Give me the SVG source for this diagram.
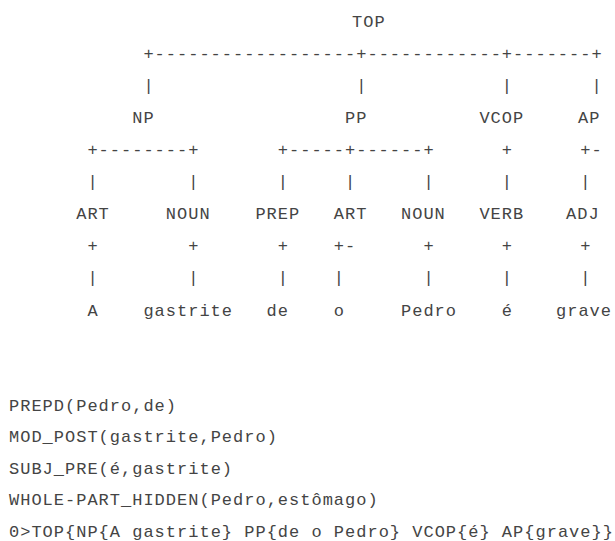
<svg xmlns="http://www.w3.org/2000/svg" width="615" height="541" viewBox="0 0 615 541">
<style>
text{font-family:"Liberation Mono","DejaVu Sans Mono",monospace;font-size:17px;letter-spacing:1px;fill:#444;white-space:pre}
</style>
<rect width="615" height="541" fill="#fff"/>
<g id="connectors">
<text x="143.4" y="58.7">+------------------+------------+-------+</text>
<text x="143.4" y="90.8">|</text><text x="356.2" y="90.8">|</text><text x="501.8" y="90.8">|</text><text x="591.4" y="90.8">|</text>
<text x="87.4" y="155">+--------+</text><text x="277.8" y="155">+-----+------+</text><text x="501.8" y="155">+</text><text x="580.2" y="155">+-</text>
<text x="87.4" y="187.1">|</text><text x="188.2" y="187.1">|</text><text x="277.8" y="187.1">|</text><text x="345" y="187.1">|</text><text x="423.4" y="187.1">|</text><text x="501.8" y="187.1">|</text><text x="580.2" y="187.1">|</text>
<text x="87.4" y="251.3">+</text><text x="188.2" y="251.3">+</text><text x="277.8" y="251.3">+</text><text x="333.8" y="251.3">+-</text><text x="423.4" y="251.3">+</text><text x="501.8" y="251.3">+</text><text x="580.2" y="251.3">+</text>
<text x="87.4" y="283.4">|</text><text x="188.2" y="283.4">|</text><text x="277.8" y="283.4">|</text><text x="333.8" y="283.4">|</text><text x="423.4" y="283.4">|</text><text x="501.8" y="283.4">|</text><text x="580.2" y="283.4">|</text>
</g>
<g id="n-top"><text x="352" y="26.6">TOP</text></g>
<g id="n-np"><text x="132.2" y="122.9">NP</text></g>
<g id="n-pp"><text x="345" y="122.9">PP</text></g>
<g id="n-vcop"><text x="479.4" y="122.9">VCOP</text></g>
<g id="n-ap"><text x="578" y="122.9">AP</text></g>
<g id="n-art1"><text x="76.2" y="219.2">ART</text></g>
<g id="n-noun1"><text x="165.8" y="219.2">NOUN</text></g>
<g id="n-prep"><text x="255.4" y="219.2">PREP</text></g>
<g id="n-art2"><text x="333.8" y="219.2">ART</text></g>
<g id="n-noun2"><text x="401" y="219.2">NOUN</text></g>
<g id="n-verb"><text x="479.4" y="219.2">VERB</text></g>
<g id="n-adj"><text x="566" y="219.2">ADJ</text></g>
<g id="w-a"><text x="87.4" y="315.5">A</text></g>
<g id="w-gastrite"><text x="143.4" y="315.5">gastrite</text></g>
<g id="w-de"><text x="266.6" y="315.5">de</text></g>
<g id="w-o"><text x="333.8" y="315.5">o</text></g>
<g id="w-pedro"><text x="401" y="315.5">Pedro</text></g>
<g id="w-e"><text x="501.8" y="315.5">é</text></g>
<g id="w-grave"><text x="556" y="315.5">grave</text></g>
<g id="relations">
<text x="9" y="410.6">PREPD(Pedro,de)</text>
<text x="9" y="442">MOD_POST(gastrite,Pedro)</text>
<text x="9" y="473.5">SUBJ_PRE(é,gastrite)</text>
<text x="9" y="505">WHOLE-PART_HIDDEN(Pedro,estômago)</text>
<text x="9" y="536.6">0&gt;TOP{NP{A gastrite} PP{de o Pedro} VCOP{é} AP{grave}}</text>
</g>
</svg>
